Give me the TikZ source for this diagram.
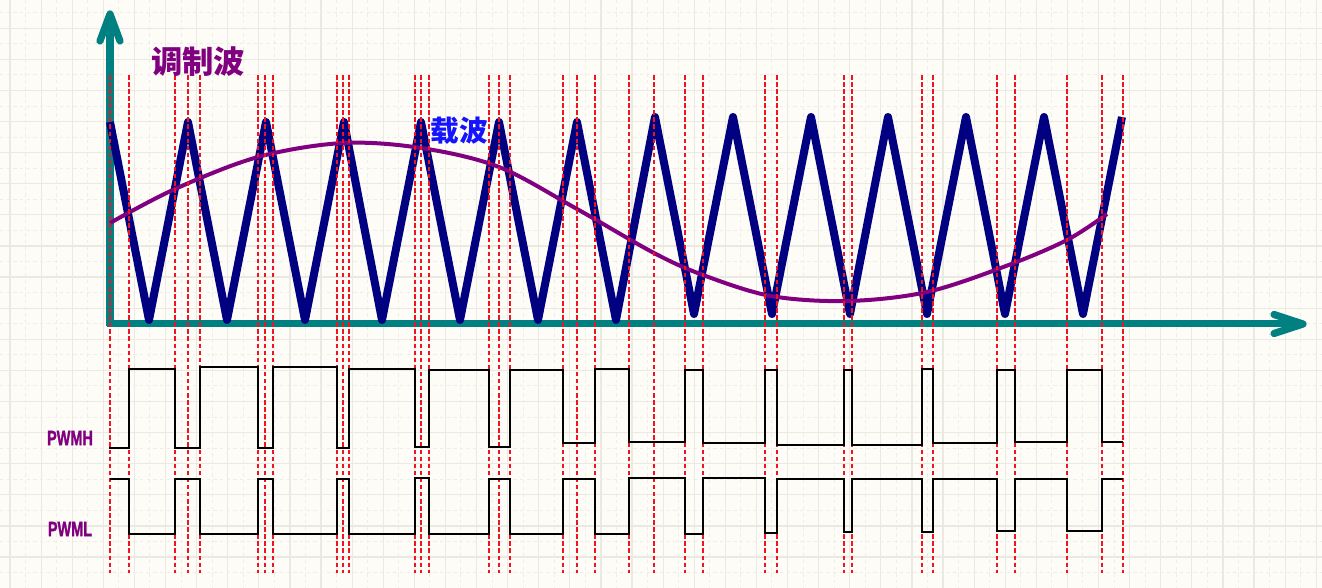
\documentclass[tikz,border=0pt]{standalone}
\usepackage{fontspec}
\setmainfont{Liberation Sans}
\newfontface\pwmfont{Liberation Sans Bold}[FakeBold=1.6]
\newfontfamily\cjk{Noto Sans CJK SC}
\definecolor{bgc}{RGB}{254,252,247}
\definecolor{gridc}{RGB}{234,234,227}
\definecolor{gridd}{RGB}{238,238,232}
\definecolor{axisc}{RGB}{0,128,128}
\definecolor{tric}{RGB}{0,0,128}
\definecolor{sinc}{RGB}{128,0,128}
\definecolor{redc}{RGB}{240,20,35}
\definecolor{bluec}{RGB}{20,20,255}
\tikzset{
  gridsolid/.style={draw=gridc, line width=0.9pt},
  griddash/.style={draw=gridd, line width=0.8pt, dash pattern=on 2.5pt off 2.5pt},
  axisline/.style={draw=axisc, line width=5.4pt},
  axishead/.style={draw=axisc, line width=5.4pt, line cap=round, line join=round},
  triwave/.style={draw=tric, line width=6pt, line join=round},
  sinwave/.style={draw=sinc, line width=3pt},
  reddash/.style={draw=redc, line width=1.6pt, dash pattern=on 3.4pt off 1.9pt},
  pwm/.style={draw=black, line width=1.9pt, line join=miter},
  pwmlabel/.style={text=sinc, font=\pwmfont\fontsize{15.5pt}{16pt}\selectfont, inner sep=0pt},
}
\begin{document}
\begin{tikzpicture}[x=0.75pt, y=-0.75pt]
\useasboundingbox (0,0) rectangle (1322,588);
\fill[bgc] (0,0) rectangle (1322,588);
% grid
\foreach \i in {0,...,42} {
  \draw[griddash] ({10+31.1*\i+15.55},0) -- ({10+31.1*\i+15.55},588);
  \draw[gridsolid] ({10+31.1*\i},0) -- ({10+31.1*\i},588);
}
\foreach \j in {-1,...,18} {
  \draw[griddash] (0,{28.3+31.1*\j+15.55}) -- (1322,{28.3+31.1*\j+15.55});
  \draw[gridsolid] (0,{28.3+31.1*\j}) -- (1322,{28.3+31.1*\j});
}
% axes
\draw[axisline] (110,326) -- (110,16);
\draw[axishead] (100,41) -- (110,14) -- (120,41);
\draw[axisline] (107,323.5) -- (1300,323.5);
\draw[axishead] (1274,314.5) -- (1303,324) -- (1274,333.5);
% carrier (triangle)
\draw[triwave] (110,122) -- (149,320) -- (188,122) -- (227,320) -- (266,122) -- (305,320)
  -- (344,122) -- (382,320) -- (421,122) -- (460,320) -- (499,122) -- (538,320)
  -- (577,122) -- (616,320) -- (655,117) -- (694,314) -- (733,117) -- (772,314)
  -- (811,117) -- (850,314) -- (888,117) -- (927,314) -- (966,117) -- (1005,314)
  -- (1044,117) -- (1083,314) -- (1122,117);
% modulating wave
\draw[sinwave] plot[smooth, tension=0.55] coordinates {
  (110,223) (175,189) (258,157) (343,143) (421,148) (499,167) (577,209)
  (654,253) (703,275) (771,296) (848,301) (927,292) (1006,266) (1067,240) (1107,214)};
% red dashed markers
\foreach \x in {110,129,175,188,200,258,265,273,337,343,349,415,421,429,489,499,510,563,577,595,629,654,685,703,765,777,844,852,922,933,997,1015,1067,1102,1123} {
  \draw[reddash] (\x,75) -- (\x,573);
}
% PWM signals
\draw[pwm] (109,448) -- (129,448) -- (129,369) -- (175,369) -- (175,448) -- (200,448)
  -- (200,367) -- (258,367) -- (258,448) -- (273,448) -- (273,367) -- (337,367)
  -- (337,448) -- (349,448) -- (349,369) -- (415,369) -- (415,447) -- (429,447)
  -- (429,370) -- (489,370) -- (489,447) -- (510,447) -- (510,370) -- (563,370)
  -- (563,443) -- (595,443) -- (595,369) -- (629,369) -- (629,442) -- (685,442)
  -- (685,370) -- (703,370) -- (703,443) -- (765,443) -- (765,370) -- (777,370)
  -- (777,445) -- (844,445) -- (844,370) -- (852,370) -- (852,445) -- (922,445)
  -- (922,369) -- (933,369) -- (933,443) -- (997,443) -- (997,370) -- (1015,370)
  -- (1015,442) -- (1067,442) -- (1067,370) -- (1102,370) -- (1102,442) -- (1123,442);
\draw[pwm] (110,479) -- (129,479) -- (129,534) -- (175,534) -- (175,479) -- (200,479)
  -- (200,534) -- (258,534) -- (258,479) -- (273,479) -- (273,534) -- (337,534)
  -- (337,479) -- (349,479) -- (349,534) -- (415,534) -- (415,478) -- (429,478)
  -- (429,534) -- (489,534) -- (489,479) -- (510,479) -- (510,534) -- (563,534)
  -- (563,479) -- (595,479) -- (595,534) -- (629,534) -- (629,478) -- (685,478)
  -- (685,534) -- (703,534) -- (703,478) -- (765,478) -- (765,533) -- (777,533)
  -- (777,479) -- (844,479) -- (844,532) -- (852,532) -- (852,479) -- (922,479)
  -- (922,532) -- (933,532) -- (933,479) -- (997,479) -- (997,531) -- (1015,531)
  -- (1015,479) -- (1067,479) -- (1067,531) -- (1102,531) -- (1102,479) -- (1123,479);
% labels
\node[pwmlabel] (pwmh) at (70,438) {\scalebox{0.7}[1]{PWMH}};
\node[pwmlabel] (pwml) at (70,529) {\scalebox{0.7}[1]{PWML}};
\node[text=sinc, inner sep=0pt, font=\cjk\bfseries\fontsize{23.5pt}{24pt}\selectfont] (mod) at (198,62) {调制波};
\node[text=bluec, inner sep=0pt, font=\cjk\bfseries\fontsize{21.5pt}{22pt}\selectfont] (car) at (459,131) {载波};
\end{tikzpicture}
\end{document}
